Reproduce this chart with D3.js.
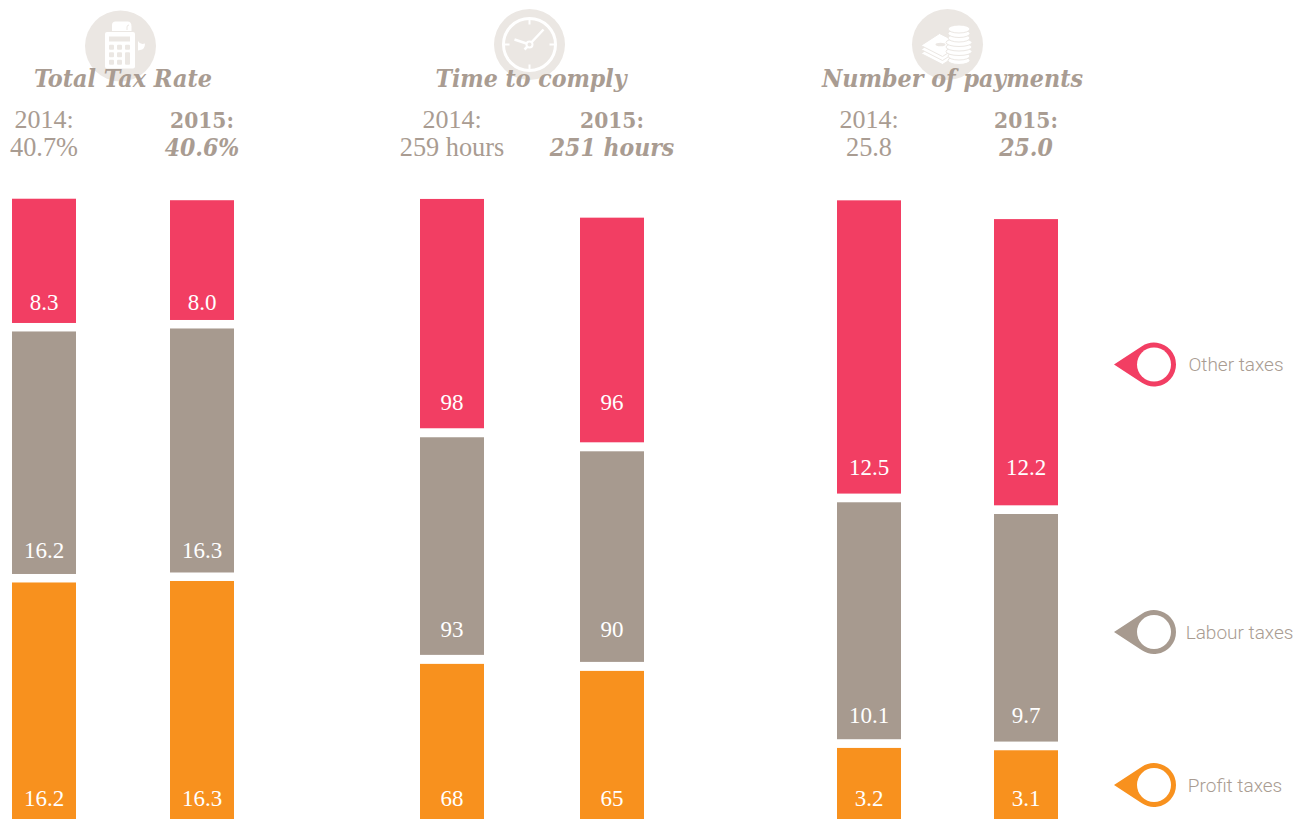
<!DOCTYPE html>
<html><head><meta charset="utf-8">
<script src="https://cdn.jsdelivr.net/npm/d3@7"></script>
<style>html,body{margin:0;padding:0;background:#fff;overflow:hidden}svg{display:block}</style>
</head><body><div id="chart"></div>
<script>
const width = 1307, height = 819;
const taxTypes = ["Profit taxes", "Labour taxes", "Other taxes"];
const years = ["2014", "2015"];
const panelTitles = ["Total Tax Rate", "Time to comply", "Number of payments"];
const headline2014 = ["40.7%", "259 hours", "25.8"];
const headline2015 = ["40.6%", "251 hours", "25.0"];
const taxRate2014 = [16.2, 16.2, 8.3];
const taxRate2015 = [16.3, 16.3, 8.0];
const taxRateLabels2014 = ["16.2", "16.2", "8.3"];
const taxRateLabels2015 = ["16.3", "16.3", "8.0"];
const hours2014 = [68, 93, 98];
const hours2015 = [65, 90, 96];
const hoursLabels2014 = ["68", "93", "98"];
const hoursLabels2015 = ["65", "90", "96"];
const payments2014 = [3.2, 10.1, 12.5];
const payments2015 = [3.1, 9.7, 12.2];
const paymentsLabels2014 = ["3.2", "10.1", "12.5"];
const paymentsLabels2015 = ["3.1", "9.7", "12.2"];

const colors = d3.scaleOrdinal().domain(taxTypes).range(["#f8911e", "#a79a8f", "#f23e63"]);
const TEXT = "#a99c92";
const ICON_BG = "#ebe7e3";
const SERIF = "'Liberation Serif', serif";
const HEAVY = "'DejaVu Serif Condensed', 'DejaVu Serif', serif";
const SANS = "Roboto, 'Liberation Sans', sans-serif";

const panels = [
  {title: panelTitles[0], head: [headline2014[0], headline2015[0]], vals: [taxRate2014, taxRate2015], labs: [taxRateLabels2014, taxRateLabels2015],
   pxPerUnit: 14.97, base: 825, gap: 8.5, xs: [12, 170], titleX: 123, titleW: 178, labelY: [806, 557.5, 310], icon: [120.5, 46, "calc"]},
  {title: panelTitles[1], head: [headline2014[1], headline2015[1]], vals: [hours2014, hours2015], labs: [hoursLabels2014, hoursLabels2015],
   pxPerUnit: 2.34, base: 823, gap: 9, xs: [420, 580], titleX: 531, titleW: 191, labelY: [806, 637, 410], icon: [529.5, 44.5, "clock"]},
  {title: panelTitles[2], head: [headline2014[2], headline2015[2]], vals: [payments2014, payments2015], labs: [paymentsLabels2014, paymentsLabels2015],
   pxPerUnit: 23.46, base: 823, gap: 8.7, xs: [837, 994], titleX: 952.5, titleW: 261, labelY: [806, 723, 475], icon: [947.5, 44.5, "coins"]}
];
const BAR_W = 64;

const svg = d3.select("#chart").append("svg").attr("width", width).attr("height", height);

function drawIcon(g, kind) {
  g.append("circle").attr("r", 35.5).attr("fill", ICON_BG);
  const w = "#fff";
  if (kind === "calc") {
    g.append("path").attr("fill", w).attr("d", "M-8.5,-15 v-6 q0,-3.5 3.5,-3.5 h12 q4,0 4,5 v4.5 z");
    g.append("path").attr("fill", "none").attr("stroke", ICON_BG).attr("stroke-width", 1)
      .attr("d", "M6.5,-16 v-3 q0,-2 2,-2");
    g.append("rect").attr("x", -15.5).attr("y", -14).attr("width", 30).attr("height", 36.5).attr("rx", 2).attr("fill", w);
    g.append("rect").attr("x", -11.5).attr("y", -9.5).attr("width", 21).attr("height", 5).attr("fill", ICON_BG);
    d3.cross(d3.range(3), d3.range(3)).forEach(([c, r]) => {
      if (c === 2 && r === 2) return;
      const tall = c === 2 && r === 1;
      g.append("rect").attr("x", -11.5 + c * 8).attr("y", -1.3 + r * 7.5).attr("width", 5).attr("height", tall ? 12.5 : 5).attr("rx", 1).attr("fill", ICON_BG);
    });
    g.append("path").attr("fill", w).attr("d", "M17.5,-5 q2,4 7,2.5 q0,6 -5,6.5 l-2,0.5 z");
  } else if (kind === "clock") {
    g.append("circle").attr("r", 26).attr("fill", "none").attr("stroke", w).attr("stroke-width", 3);
    [[0,-26,0,-20],[0,26,0,20],[-26,0,-20,0],[26,0,20,0]].forEach(d => {
      g.append("line").attr("x1", d[0]).attr("y1", d[1]).attr("x2", d[2]).attr("y2", d[3]).attr("stroke", w).attr("stroke-width", 2);
    });
    g.append("line").attr("x1", 0).attr("y1", 0).attr("x2", 14).attr("y2", -15).attr("stroke", w).attr("stroke-width", 2.5);
    g.append("line").attr("x1", 0).attr("y1", 0).attr("x2", -15).attr("y2", -5).attr("stroke", w).attr("stroke-width", 2.5);
    g.append("line").attr("x1", 0).attr("y1", 0).attr("x2", -5).attr("y2", 5).attr("stroke", w).attr("stroke-width", 2.5);
    g.append("circle").attr("r", 3).attr("fill", ICON_BG).attr("stroke", w).attr("stroke-width", 2);
  } else {
    [8, 4, 0].forEach(dy => g.append("path").attr("fill", w).attr("stroke", ICON_BG).attr("stroke-width", 1)
      .attr("d", `M-26.5,${dy + 1} L-8,${dy - 11} L14,${dy} L-5,${dy + 12} Z`));
    g.append("ellipse").attr("cx", -7).attr("cy", 0).attr("rx", 5).attr("ry", 1.8).attr("fill", ICON_BG);
    [16, 11.5, 7, 2.5, -2, -6.5, -11, -15.5].forEach((y, i) => {
      g.append("ellipse").attr("cx", 11.5).attr("cy", y).attr("rx", (i > 1 && i < 5) ? 13 : 11).attr("ry", 4).attr("fill", w).attr("stroke", ICON_BG).attr("stroke-width", 1);
    });
  }
}

panels.forEach(p => {
  const ig = svg.append("g").attr("transform", `translate(${p.icon[0]},${p.icon[1]})`);
  drawIcon(ig, p.icon[2]);

  svg.append("text").attr("x", p.titleX).attr("y", 87).attr("text-anchor", "middle")
    .attr("font-family", HEAVY).attr("font-weight", 700).attr("font-style", "italic")
    .attr("font-size", 24).attr("fill", TEXT)
    .attr("textLength", p.titleW).attr("lengthAdjust", "spacingAndGlyphs").text(p.title);

  years.forEach((yr, yi) => {
    const x = p.xs[yi];
    const cx = x + BAR_W / 2;
    svg.append("text").attr("x", cx).attr("y", 128).attr("text-anchor", "middle")
      .attr("font-family", yi ? HEAVY : SERIF).attr("font-size", yi ? 22.5 : 26).attr("font-weight", yi ? 700 : 400)
      .attr("fill", TEXT).text(yr + ":");
    svg.append("text").attr("x", cx).attr("y", 156).attr("text-anchor", "middle")
      .attr("font-family", yi ? HEAVY : SERIF).attr("font-size", yi ? 24.5 : 26.3).attr("font-weight", yi ? 700 : 400)
      .attr("font-style", yi ? "italic" : "normal").attr("fill", TEXT).text(p.head[yi]);

    const stack = d3.stack().keys(d3.range(3))([p.vals[yi]]);
    const maxV = d3.sum(p.vals[yi]);
    const y = d3.scaleLinear().domain([0, maxV]).range([p.base, p.base - maxV * p.pxPerUnit]);
    stack.forEach((s, i) => {
      const y0 = y(s[0][0]) - i * p.gap;
      const y1 = y(s[0][1]) - i * p.gap;
      svg.append("rect").attr("x", x).attr("width", BAR_W).attr("y", y1).attr("height", y0 - y1)
        .attr("fill", colors(taxTypes[i]));
      svg.append("text").attr("x", cx).attr("text-anchor", "middle")
        .attr("y", p.labelY[i])
        .attr("font-family", SERIF).attr("font-size", 23).attr("fill", "#fff")
        .text(p.labs[yi][i]);
    });
  });
});

// legend
const legendY = [785, 632, 364.5];
const legendTextX = [1235, 1239.5, 1236];
const outerR = 22, innerR = 17, cxL = 1154, tipX = 1114;
taxTypes.forEach((t, i) => {
  const g = svg.append("g").attr("transform", `translate(${cxL},${legendY[i]})`);
  const tip = tipX - cxL;
  const ang = Math.acos(outerR / -tip);
  const px = outerR * Math.cos(Math.PI - ang), py = outerR * Math.sin(ang);
  g.append("path").attr("fill", colors(t))
    .attr("d", `M${tip},0 L${px},${-py} A${outerR},${outerR} 0 1 1 ${px},${py} Z`);
  g.append("circle").attr("r", innerR).attr("fill", "#fff");
  svg.append("text").attr("x", legendTextX[i]).attr("y", legendY[i] + 6.5).attr("text-anchor", "middle")
    .attr("font-family", SANS).attr("font-weight", 300).attr("font-size", 19).attr("fill", TEXT).text(t);
});
</script></body></html>
